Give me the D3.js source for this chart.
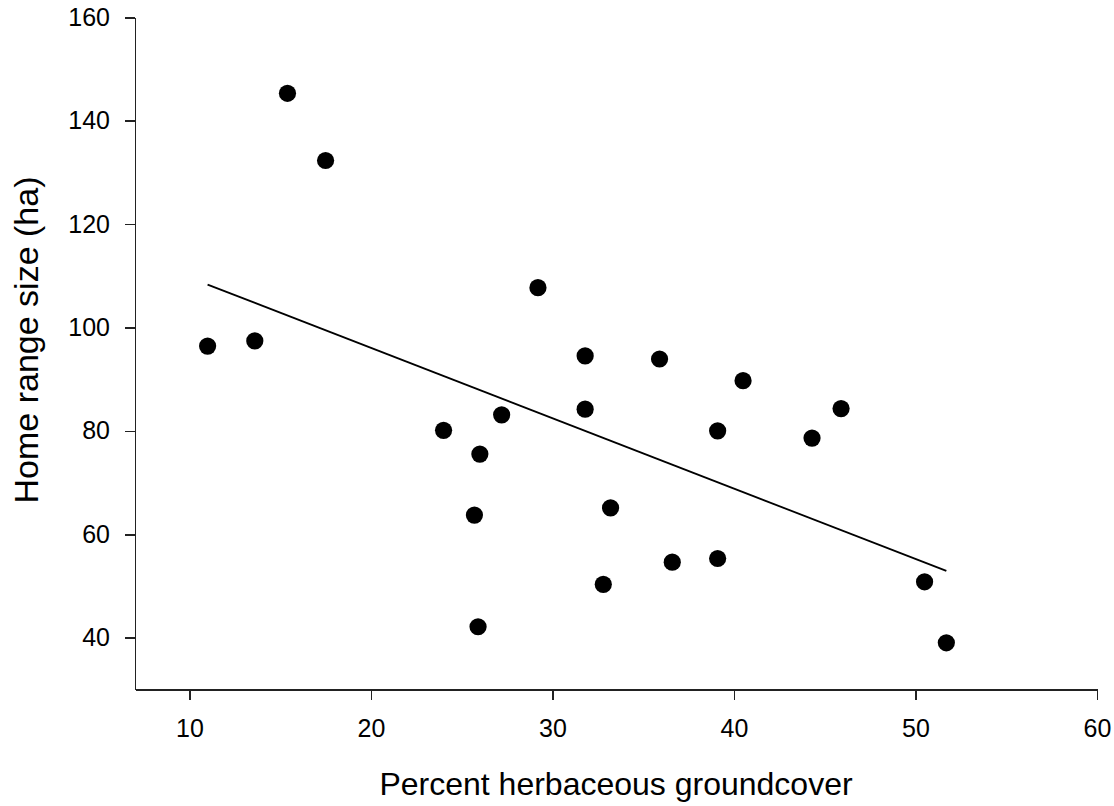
<!DOCTYPE html>
<meta charset="utf-8">
<style>
  body { margin: 0; background: #fff; }
  svg { display: block; font-family: "Liberation Sans", Arial, sans-serif; }
  .axis path, .axis line { stroke: #222; stroke-width: 1.6px; shape-rendering: crispEdges; }
  .axis text { font-size: 25px; fill: #000; font-family: "Liberation Sans", Arial, sans-serif; }
  .title { font-size: 32px; fill: #000; }
  .ytitle { font-size: 34px; }
  .fit { stroke: #000; stroke-width: 1.8px; fill: none; }
  .dot { fill: #000; }
</style>
<body>
<script src="https://cdn.jsdelivr.net/npm/d3@7"></script>
<script>

  // percent herbaceous groundcover, home range size (ha)
  var groundcover = [11.0, 13.6, 15.4, 17.5, 24.0, 26.0, 25.7, 25.9, 27.2, 29.2, 31.8, 31.8,
                     32.8, 33.2, 35.9, 36.6, 39.1, 39.1, 40.5, 44.3, 45.9, 50.5, 51.7];
  var homeRange   = [96.4, 97.4, 145.3, 132.3, 80.1, 75.5, 63.7, 42.1, 83.1, 107.7, 94.5, 84.2,
                     50.3, 65.1, 93.9, 54.6, 80.0, 55.3, 89.7, 78.6, 84.3, 50.8, 39.0];

  // regression line end points
  var fitX = [11.0, 51.7];
  var fitY = [108.3, 52.9];

  var xTicks = [10, 20, 30, 40, 50, 60];
  var yTicks = [40, 60, 80, 100, 120, 140, 160];

  var width = 1114, height = 806;
  var plotLeft = 135, plotRight = 1097, plotTop = 17.3, plotBottom = 689.3;

  var x = d3.scaleLinear().domain([7, 60]).range([plotLeft, plotRight]);
  var y = d3.scaleLinear().domain([30, 160]).range([plotBottom, plotTop]);

  var svg = d3.select("body").append("svg")
      .attr("width", width)
      .attr("height", height);

  // axes
  svg.append("g")
      .attr("class", "axis")
      .attr("transform", "translate(0," + plotBottom + ")")
      .call(d3.axisBottom(x).tickValues(xTicks).tickSize(11).tickSizeOuter(0).tickPadding(19));

  svg.append("g")
      .attr("class", "axis")
      .attr("transform", "translate(" + plotLeft + ",0)")
      .call(d3.axisLeft(y).tickValues(yTicks).tickSize(10).tickSizeOuter(0).tickPadding(15));

  // fit line
  svg.append("path")
      .attr("class", "fit")
      .attr("d", d3.line()(fitX.map(function(v, i) { return [x(v), y(fitY[i])]; })));

  // points
  svg.append("g").selectAll("circle")
      .data(groundcover)
      .enter().append("circle")
      .attr("class", "dot")
      .attr("r", 8.6)
      .attr("cx", function(d) { return x(d); })
      .attr("cy", function(d, i) { return y(homeRange[i]); });

  // axis titles
  svg.append("text")
      .attr("class", "title")
      .attr("x", (plotLeft + plotRight) / 2)
      .attr("y", 795)
      .attr("text-anchor", "middle")
      .text("Percent herbaceous groundcover");

  svg.append("text")
      .attr("class", "title ytitle")
      .attr("transform", "translate(38,340) rotate(-90)")
      .attr("text-anchor", "middle")
      .text("Home range size (ha)");

</script>
</body>
</html>
